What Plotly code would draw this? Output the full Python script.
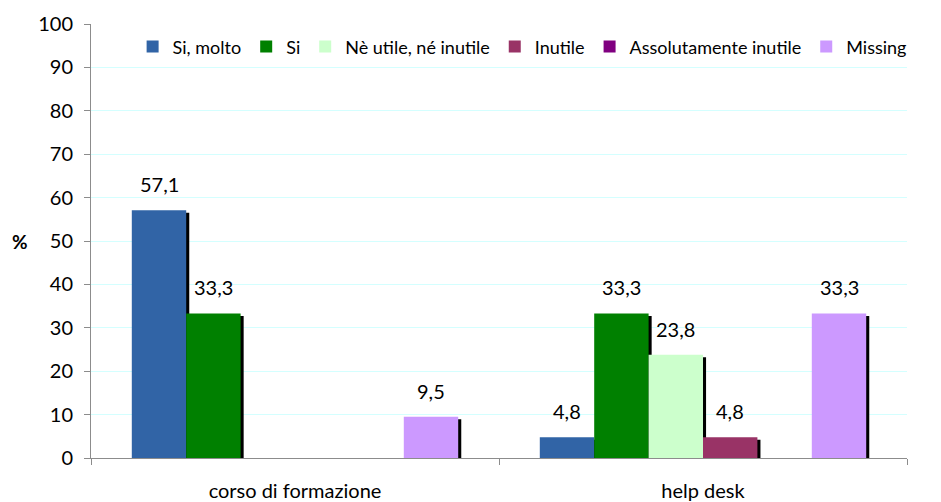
import plotly.graph_objects as go

# Dati
categorie = ["corso di formazione", "help desk"]
serie = ["Si, molto", "Si", "Nè utile, né inutile", "Inutile",
         "Assolutamente inutile", "Missing"]
si_molto = [57.1, 4.8]
si = [33.3, 33.3]
ne_utile_ne_inutile = [0, 23.8]
inutile = [0, 4.8]
assolutamente_inutile = [0, 0]
missing = [9.5, 33.3]
valori = [si_molto, si, ne_utile_ne_inutile, inutile,
          assolutamente_inutile, missing]

colori = ["#3164a6", "#008000", "#ccffcc", "#993366", "#800080", "#cc99ff"]

font = "Lato"
w = 0.8 / len(serie)

fig = go.Figure()

# ombre nere dietro le barre
for i, vals in enumerate(valori):
    fig.add_trace(go.Bar(
        x=categorie, y=vals, base=-0.6,
        offset=-0.4 + i * w + 0.0075, width=w,
        marker=dict(color="black", line=dict(width=0)),
        showlegend=False, hoverinfo="skip",
    ))

# barre
etichette = []
for i, (nome, vals) in enumerate(zip(serie, valori)):
    fig.add_trace(go.Bar(
        x=categorie, y=vals, name=nome,
        offset=-0.4 + i * w, width=w,
        marker=dict(color=colori[i], line=dict(width=0)),
    ))
    for j, v in enumerate(vals):
        if v > 0:
            etichette.append(dict(
                x=j - 0.4 + i * w + w / 2, y=v, xref="x", yref="y",
                text=f"{v:.1f}".replace(".", ","), showarrow=False,
                yanchor="bottom", yshift=12,
                font=dict(family=font, size=20, color="black"),
            ))

etichette.append(dict(
    text="<b>%</b>", xref="paper", yref="paper", x=-0.087, y=0.5,
    xanchor="center", showarrow=False, font=dict(family=font, size=19),
))

fig.update_layout(
    width=941, height=502,
    margin=dict(l=83, r=42, t=16, b=52),
    plot_bgcolor="white", paper_bgcolor="white",
    barmode="overlay",
    font=dict(family=font, size=20, color="black"),
    showlegend=True,
    legend=dict(
        orientation="h", x=0.051, y=0.99,
        xanchor="left", yanchor="top",
        font=dict(family=font, size=18), bgcolor="rgba(0,0,0,0)",
        itemwidth=30, traceorder="normal",
    ),
    annotations=etichette,
)

fig.update_yaxes(
    range=[0, 100], dtick=10, showgrid=True, gridcolor="#d4ffff",
    showline=True, linecolor="#8c8c8c", ticks="outside", ticklen=6,
    tickcolor="#8c8c8c", zeroline=False, ticklabelstandoff=7,
    automargin=False,
)
fig.update_xaxes(
    showline=True, linecolor="#8c8c8c", ticks="outside", ticklen=6,
    tickcolor="#8c8c8c", tickson="boundaries", ticklabelstandoff=15,
    automargin=False,
)

fig.write_html("out.html")
